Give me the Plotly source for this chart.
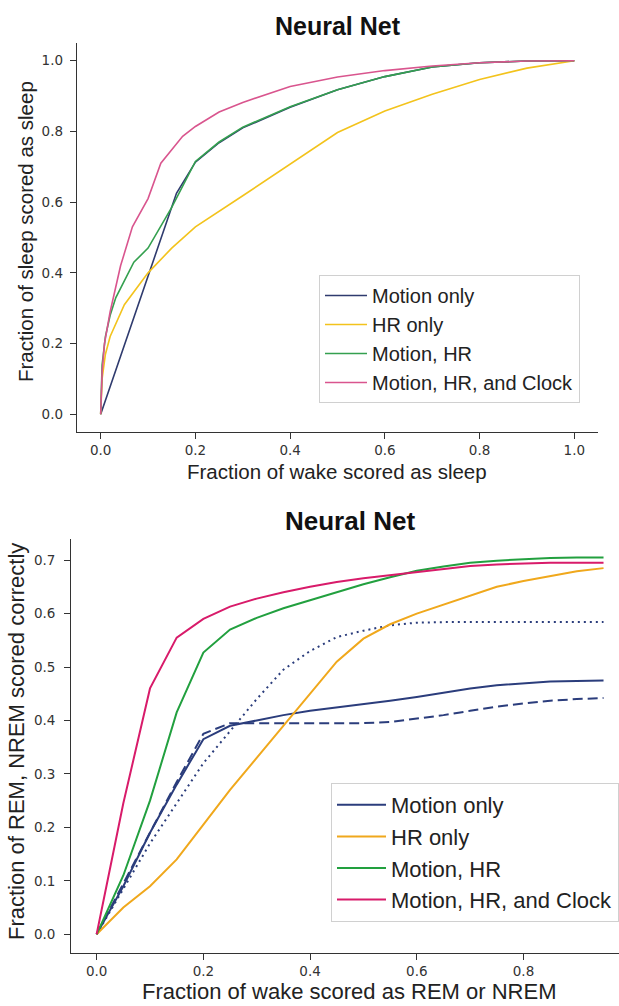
import plotly.graph_objects as go

# ---------------- Sleep / wake ROC curves (top panel) ----------------
top_series = ["Motion only", "HR only", "Motion, HR", "Motion, HR, and Clock"]

sw_motion_x = [0, 0.16, 0.2, 0.25, 0.3, 0.4, 0.5, 0.6, 0.7, 0.8, 0.9, 1.0]
sw_motion_y = [0, 0.625, 0.713, 0.768, 0.81, 0.868, 0.918, 0.955, 0.982, 0.994, 0.999, 1.0]

sw_hr_x = [0, 0.003, 0.01, 0.02, 0.05, 0.1, 0.15, 0.2, 0.3, 0.4, 0.5, 0.6, 0.7, 0.8, 0.9, 1.0]
sw_hr_y = [0, 0.1, 0.17, 0.22, 0.31, 0.4, 0.47, 0.53, 0.618, 0.707, 0.797, 0.858, 0.905, 0.947, 0.979, 1.0]

sw_mhr_x = [0, 0.003, 0.01, 0.02, 0.032, 0.07, 0.1, 0.15, 0.2, 0.25, 0.3, 0.4, 0.5, 0.6, 0.7, 0.8, 0.9, 1.0]
sw_mhr_y = [0, 0.14, 0.22, 0.28, 0.33, 0.43, 0.47, 0.585, 0.715, 0.77, 0.812, 0.87, 0.918, 0.955, 0.982, 0.994, 0.999, 1.0]

sw_clock_x = [0, 0.003, 0.008, 0.02, 0.042, 0.067, 0.1, 0.127, 0.173, 0.2, 0.25, 0.3, 0.4, 0.5, 0.6, 0.7, 0.8, 0.9, 1.0]
sw_clock_y = [0, 0.12, 0.2, 0.29, 0.42, 0.53, 0.61, 0.71, 0.786, 0.814, 0.855, 0.882, 0.927, 0.954, 0.972, 0.985, 0.994, 0.999, 1.0]

# ---------------- REM / NREM curves (bottom panel) ----------------
st_x = [0, 0.05, 0.1, 0.15, 0.2, 0.25, 0.3, 0.35, 0.4, 0.45, 0.5, 0.55, 0.6, 0.65, 0.7, 0.75, 0.8, 0.85, 0.9, 0.95]

st_motion_y = [0, 0.09, 0.19, 0.28, 0.365, 0.39, 0.4, 0.41, 0.418, 0.424, 0.43, 0.437, 0.444, 0.452, 0.46, 0.466, 0.47, 0.473, 0.474, 0.475]
st_motion_dash_y = [0, 0.095, 0.19, 0.285, 0.375, 0.395, 0.395, 0.395, 0.395, 0.395, 0.395, 0.397, 0.403, 0.41, 0.418, 0.426, 0.432, 0.437, 0.44, 0.442]
st_motion_dot_y = [0, 0.085, 0.17, 0.245, 0.32, 0.38, 0.44, 0.495, 0.53, 0.556, 0.568, 0.578, 0.583, 0.584, 0.584, 0.584, 0.584, 0.584, 0.584, 0.584]
st_hr_y = [0, 0.05, 0.09, 0.14, 0.205, 0.27, 0.33, 0.39, 0.451, 0.51, 0.553, 0.58, 0.6, 0.617, 0.633, 0.65, 0.661, 0.67, 0.679, 0.685]
st_mhr_y = [0, 0.11, 0.25, 0.415, 0.527, 0.57, 0.592, 0.61, 0.625, 0.64, 0.655, 0.668, 0.68, 0.688, 0.695, 0.699, 0.702, 0.704, 0.705, 0.705]
st_clock_y = [0, 0.245, 0.46, 0.555, 0.59, 0.613, 0.628, 0.64, 0.65, 0.659, 0.666, 0.672, 0.678, 0.684, 0.689, 0.692, 0.694, 0.695, 0.695, 0.695]

top_colors = ["#2f3b6e", "#f3c31c", "#34a04f", "#d9558e"]
bot_colors = ["#2b3d7c", "#f0a81c", "#22a03f", "#d81b6a"]

W, H = 619, 1006

def px_x(p):
    return p / W

def px_y(p):
    return (H - p) / H

fig = go.Figure()

# top panel traces
top_data = [(sw_motion_x, sw_motion_y), (sw_hr_x, sw_hr_y), (sw_mhr_x, sw_mhr_y), (sw_clock_x, sw_clock_y)]
for name, (xs, ys), c in zip(top_series, top_data, top_colors):
    fig.add_trace(go.Scatter(x=xs, y=ys, mode="lines", name=name,
                             line=dict(color=c, width=1.6),
                             xaxis="x", yaxis="y", legend="legend"))

# bottom panel: the dashed / dotted motion variants first
fig.add_trace(go.Scatter(x=st_x, y=st_motion_dash_y, mode="lines", showlegend=False,
                         line=dict(color=bot_colors[0], width=2, dash="10px,5px"),
                         xaxis="x2", yaxis="y2"))
fig.add_trace(go.Scatter(x=st_x, y=st_motion_dot_y, mode="lines", showlegend=False,
                         line=dict(color=bot_colors[0], width=2, dash="2px,4px"),
                         xaxis="x2", yaxis="y2"))
bot_data = [st_motion_y, st_hr_y, st_mhr_y, st_clock_y]
for name, ys, c in zip(top_series, bot_data, bot_colors):
    fig.add_trace(go.Scatter(x=st_x, y=ys, mode="lines", name=name,
                             line=dict(color=c, width=2),
                             xaxis="x2", yaxis="y2", legend="legend2"))

tick_font = dict(family="DejaVu Sans", size=13.5, color="#333333")
axis_common = dict(showline=True, linecolor="#333333", linewidth=1.4, mirror=False,
                   ticks="outside", ticklen=6, tickwidth=1.3, tickcolor="#333333",
                   showgrid=False, zeroline=False, tickfont=tick_font, tickformat=".1f")

fig.update_layout(
    width=W, height=H,
    margin=dict(l=0, r=0, t=0, b=0),
    paper_bgcolor="white", plot_bgcolor="white",
    xaxis=dict(axis_common, domain=[px_x(77), px_x(598)], range=[-0.05, 1.05],
               tickvals=[0, 0.2, 0.4, 0.6, 0.8, 1.0], anchor="y"),
    yaxis=dict(axis_common, domain=[px_y(432), px_y(43)], range=[-0.05, 1.05],
               tickvals=[0, 0.2, 0.4, 0.6, 0.8, 1.0], anchor="x", ticklabelstandoff=4),
    xaxis2=dict(axis_common, domain=[px_x(71.3), 1.0], range=[-0.0475, 0.979],
                tickvals=[0, 0.2, 0.4, 0.6, 0.8], anchor="y2"),
    yaxis2=dict(axis_common, domain=[px_y(953), px_y(539)], range=[-0.035, 0.7395],
                tickvals=[0, 0.1, 0.2, 0.3, 0.4, 0.5, 0.6, 0.7], anchor="x2", ticklabelstandoff=6),
    legend=dict(x=px_x(319), y=px_y(275), xanchor="left", yanchor="top",
                bgcolor="rgba(255,255,255,0.85)", bordercolor="#d0d0d0", borderwidth=1,
                font=dict(family="Liberation Sans", size=20, color="#222222"),
                itemwidth=42, tracegroupgap=0),
    legend2=dict(x=px_x(331), y=px_y(783), xanchor="left", yanchor="top",
                 bgcolor="rgba(255,255,255,0.85)", bordercolor="#d0d0d0", borderwidth=1,
                 font=dict(family="Liberation Sans", size=22, color="#222222"),
                 itemwidth=49, tracegroupgap=0),
    showlegend=True,
)

label_font_top = dict(family="Liberation Sans", size=20.5, color="#222222")
label_font_bot = dict(family="Liberation Sans", size=22, color="#222222")
title_font_top = dict(family="Liberation Sans", size=25, color="#111111")
title_font_bot = dict(family="Liberation Sans", size=26, color="#111111")

annotations = [
    dict(text="<b>Neural Net</b>", x=px_x(337.5), y=px_y(25.5), font=title_font_top),
    dict(text="Fraction of wake scored as sleep", x=px_x(337), y=px_y(471), font=label_font_top),
    dict(text="Fraction of sleep scored as sleep", x=px_x(26), y=px_y(232), font=label_font_top, textangle=-90),
    dict(text="<b>Neural Net</b>", x=px_x(350.5), y=px_y(521), font=title_font_bot),
    dict(text="Fraction of wake scored as REM or NREM", x=px_x(349), y=px_y(991), font=label_font_bot),
    dict(text="Fraction of REM, NREM scored correctly", x=px_x(16), y=px_y(742), font=label_font_bot, textangle=-90),
]
for a in annotations:
    fig.add_annotation(xref="paper", yref="paper", showarrow=False,
                       xanchor="center", yanchor="middle", **a)

fig.write_html("out.html")
